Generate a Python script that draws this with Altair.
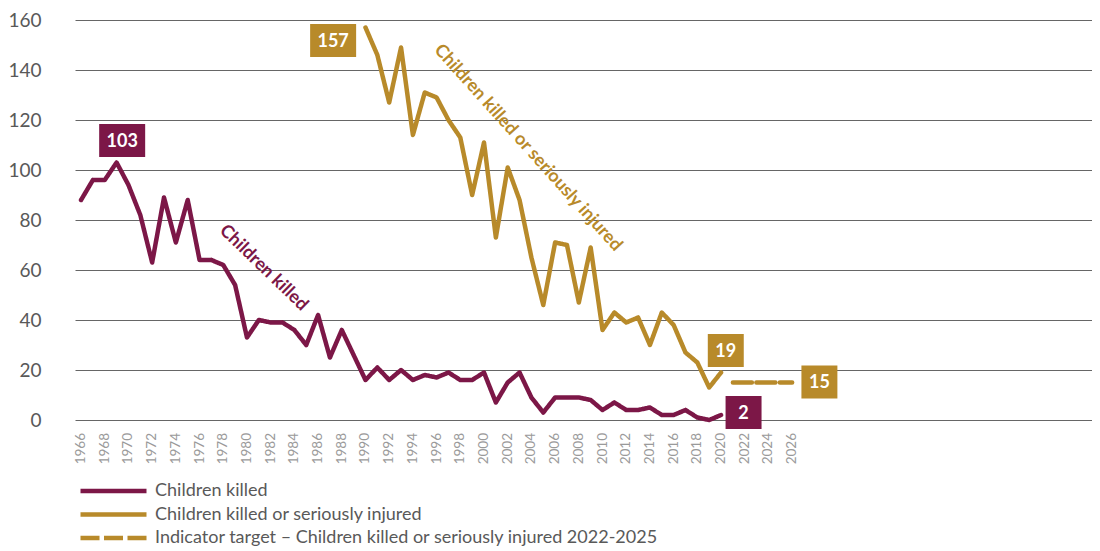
import altair as alt
import pandas as pd

# ---- data ----
years_killed = list(range(1966, 2021))
killed = [88, 96, 96, 103, 94, 82, 63, 89, 71, 88,
          64, 64, 62, 54, 33, 40, 39, 39, 36, 30,
          42, 25, 36, 26, 16, 21, 16, 20, 16, 18,
          17, 19, 16, 16, 19, 7, 15, 19, 9, 3,
          9, 9, 9, 8, 4, 7, 4, 4, 5, 2,
          2, 4, 1, 0, 2]

years_ksi = list(range(1990, 2021))
ksi = [157, 146, 127, 149, 114, 131, 129, 120, 113, 90,
       111, 73, 101, 88, 65, 46, 71, 70, 47, 69,
       36, 43, 39, 41, 30, 43, 38, 27, 23, 13,
       19]

years_target = list(range(2021, 2027))
target = [15, 15, 15, 15, 15, 15]

series_names = [
    "Children killed",
    "Children killed or seriously injured",
    "Indicator target  \u2013 Children killed or seriously injured 2022-2025",
]

# value boxes (text, anchor year, anchor value, colour group)
box_text = ["103", "157", "19", "15", "2"]
box_year = [1969.47, 1987.27, 2020.4, 2028.3, 2021.9]
box_value = [111.8, 151.8, 27.8, 15.2, 3.0]
box_group = ["k", "s", "s", "s", "k"]
box_wide = [True, True, False, False, False]

# rotated series labels
lab_text = ["Children killed", "Children killed or seriously injured"]
lab_year = [1981.4, 2003.7]
lab_value = [60.8, 108.8]
lab_group = ["k", "s"]
lab_angle = [44, 48]

x_ticks = list(range(1966, 2027, 2))
x_tick_labels = [str(y) for y in x_ticks]
y_ticks = list(range(0, 161, 20))

MAROON = "#7C1747"
GOLD = "#B88A2A"

# ---- tables ----
rows = []
for y, v in zip(years_killed, killed):
    rows.append({"year": y, "value": v, "series": series_names[0]})
for y, v in zip(years_ksi, ksi):
    rows.append({"year": y, "value": v, "series": series_names[1]})
for y, v in zip(years_target, target):
    rows.append({"year": y, "value": v, "series": series_names[2]})
lines_df = pd.DataFrame(rows)

boxes_df = pd.DataFrame({"text": box_text, "year": box_year, "value": box_value,
                         "group": box_group, "wide": box_wide})
labels_df = pd.DataFrame({"text": lab_text, "year": lab_year, "value": lab_value,
                          "group": lab_group, "angle": lab_angle})
ticks_df = pd.DataFrame({"year": x_ticks, "label": x_tick_labels})

x_scale = alt.Scale(domain=[1965.49, 2051.3], nice=False, zero=False)
y_scale = alt.Scale(domain=[0, 160], nice=False)

x_axis = alt.Axis(values=x_ticks, labels=False, ticks=False, domain=False,
                  grid=False, title=None)
y_axis = alt.Axis(values=y_ticks, labelFontSize=19, labelColor="#595959",
                  labelFont="Lato", labelPadding=34, ticks=False, domain=False,
                  grid=True, gridColor="#666666", gridWidth=1, title=None)

legend_symbol = "M-1.5,0H11.7"


def make_legend():
    return alt.Legend(title=None, orient="none", legendX=4, legendY=462,
                      direction="vertical", symbolType=legend_symbol,
                      symbolSize=100, symbolStrokeWidth=4.5,
                      labelFontSize=18, labelFont="Lato",
                      labelColor="#595959", labelOffset=58,
                      rowPadding=5.5, padding=0, labelLimit=700)


lines = alt.Chart(lines_df).mark_line(strokeWidth=4.5, strokeJoin="round", strokeCap="round").encode(
    x=alt.X("year:Q", scale=x_scale, axis=x_axis),
    y=alt.Y("value:Q", scale=y_scale, axis=y_axis),
    color=alt.Color("series:N",
                    scale=alt.Scale(domain=series_names, range=[MAROON, GOLD, GOLD]),
                    legend=make_legend()),
    strokeDash=alt.StrokeDash("series:N",
                              scale=alt.Scale(domain=series_names,
                                              range=[[1, 0], [1, 0], [19, 4.5]]),
                              legend=make_legend()),
    detail="series:N",
)

# year labels under the axis, rotated to read upwards
tick_labels = alt.Chart(ticks_df).mark_text(font="Lato", fontSize=13.5, fill="#9a9a9a",
                                            angle=270, align="right", baseline="middle").encode(
    x=alt.X("year:Q", scale=x_scale),
    y=alt.value(413),
    text="label:N",
)

box_shape_wide = "M-1.394,-1L1.394,-1L1.394,1L-1.394,1Z"
box_shape_narrow = "M-1.09,-1L1.09,-1L1.09,1L-1.09,1Z"

group_fill = alt.Fill("group:N", scale=alt.Scale(domain=["k", "s"], range=[MAROON, GOLD]), legend=None)

boxes = alt.Chart(boxes_df).mark_point(filled=True, opacity=1, size=1089, strokeWidth=0).encode(
    x=alt.X("year:Q", scale=x_scale),
    y=alt.Y("value:Q", scale=y_scale),
    fill=group_fill,
    shape=alt.Shape("wide:N", scale=alt.Scale(domain=[True, False],
                                              range=[box_shape_wide, box_shape_narrow]), legend=None),
)

box_text_layer = alt.Chart(boxes_df).mark_text(font="Lato", fontSize=18, fontWeight="bold",
                                               fill="white", align="center", baseline="middle", dy=1).encode(
    x=alt.X("year:Q", scale=x_scale),
    y=alt.Y("value:Q", scale=y_scale),
    text="text:N",
)

label_layer = alt.Chart(labels_df).mark_text(font="Lato", fontSize=18, fontWeight="bold",
                                             align="center", baseline="middle").encode(
    x=alt.X("year:Q", scale=x_scale),
    y=alt.Y("value:Q", scale=y_scale),
    text="text:N",
    angle=alt.Angle("angle:Q", scale=None),
    fill=group_fill,
)

chart = alt.layer(lines, tick_labels, boxes, box_text_layer, label_layer).properties(
    width=1017, height=400,
    autosize=alt.AutoSizeParams(type="none"),
    padding={"left": 67, "top": 12, "right": 0, "bottom": 131},
    background="white",
).configure_view(stroke=None, clip=False)

chart.save("out.html", embed_options={"renderer": "svg", "actions": False})
